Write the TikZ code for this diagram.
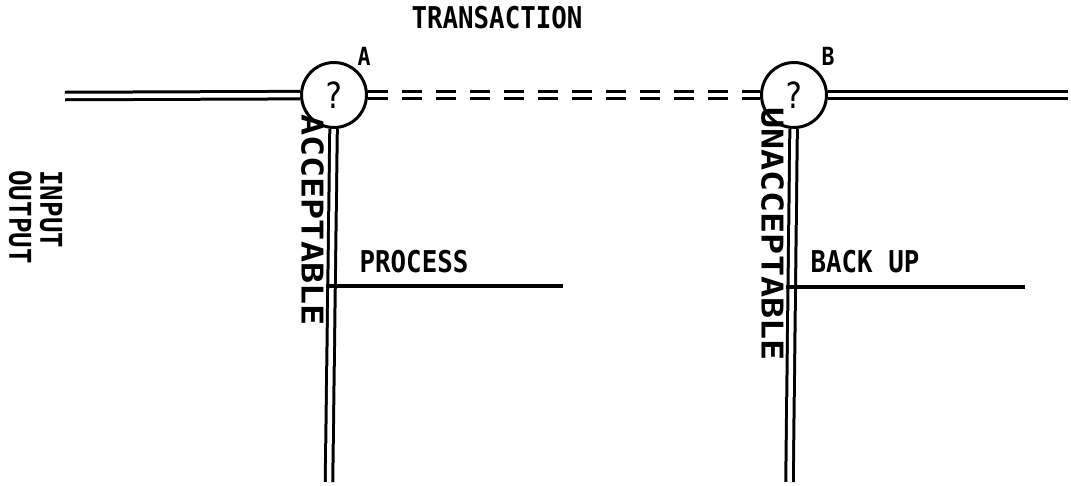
\documentclass[tikz,border=0pt]{standalone}
\usepackage{fontspec}
\newfontfamily\hmono{DejaVu Sans Mono}[FakeStretch=0.86]
\newfontfamily\vmono{DejaVu Sans Mono}[FakeStretch=1.17]
\begin{document}
\begin{tikzpicture}[x=1pt,y=-1pt,
  dbl/.style={draw=black,line width=3pt,double=white,double distance=4.5pt},
  dbldash/.style={dbl,dash pattern=on 20pt off 14pt},
  single/.style={draw=black,line width=3.8pt},
  decision/.style={circle,draw=black,line width=3pt,minimum size=65pt,inner sep=0pt,fill=white,font=\hmono\fontsize{36}{36}\selectfont},
  lbl/.style={inner sep=0pt,font=\hmono\bfseries\fontsize{30}{31}\selectfont},
  vlbl/.style={inner sep=0pt,rotate=-90,font=\vmono\bfseries\fontsize{30}{31}\selectfont},
  tag/.style={inner sep=0pt,font=\hmono\bfseries\fontsize{25}{25}\selectfont}]
\useasboundingbox (0,0) rectangle (1071,485);
% decision nodes
\node[decision] (A) at (334,95) {?};
\node[decision] (B) at (794,95) {?};
% free ends
\coordinate (Lin) at (65,96);
\coordinate (Rout) at (1068,95);
\coordinate (Abot) at (329,482);
\coordinate (Bbot) at (789.5,482);
\coordinate (Ap) at (326,286);
\coordinate (Ae) at (563,286);
\coordinate (Bp) at (786,287);
\coordinate (Be) at (1025,287);
% connectors
\draw[dbl] (Lin) -- (A);
\draw[dbl] (B) -- (Rout);
\draw[dbldash] (A) -- (B);
\draw[dbl] (A) -- (Abot);
\draw[dbl] (B) -- (Bbot);
\draw[single] (Ap) -- (Ae);
\draw[single] (Bp) -- (Be);
% labels
\node[lbl] (trans) at (497,18) {TRANSACTION};
\node[tag] (la) at (364,56) {A};
\node[tag] (lb) at (828,56) {B};
\node[lbl] (proc) at (414,262) {PROCESS};
\node[lbl] (back) at (865,262) {BACK UP};
\node[vlbl] (acc) at (312.5,220) {ACCEPTABLE};
\node[vlbl] (unacc) at (772.5,234) {UNACCEPTABLE};
\node[inner sep=0pt,rotate=-90,align=left,font=\hmono\bfseries\fontsize{30}{31}\selectfont] (io) at (35.5,217) {INPUT\\OUTPUT};
\end{tikzpicture}
\end{document}
